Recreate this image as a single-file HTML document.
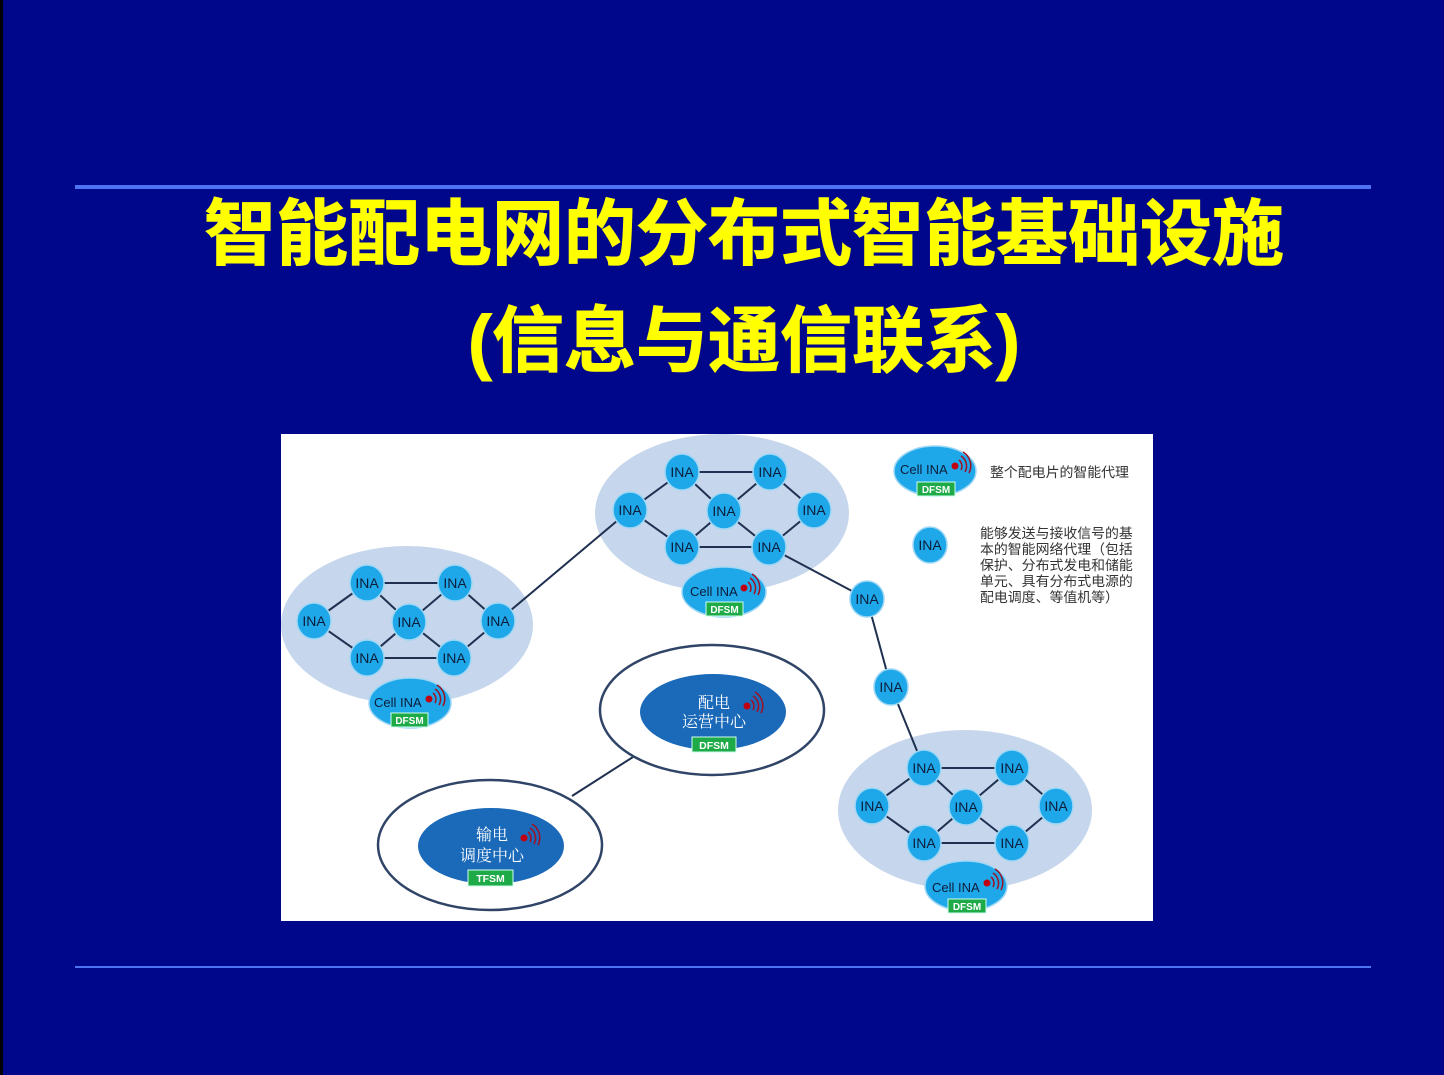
<!DOCTYPE html>
<html><head><meta charset="utf-8"><style>
html,body{margin:0;padding:0;background:#01078a;}
svg{display:block}
</style></head><body>
<svg width="1444" height="1075" viewBox="0 0 1444 1075" xmlns="http://www.w3.org/2000/svg" font-family="Liberation Sans, Noto Sans CJK SC, sans-serif">
<rect width="1444" height="1075" fill="#01078a"/>
<rect x="0" y="0" width="3" height="1075" fill="#000"/>
<rect x="75" y="185" width="1296" height="4" fill="#4d73f2"/>
<rect x="75" y="966" width="1296" height="2" fill="#4d73f2"/>
<text x="744" y="259" text-anchor="middle" font-size="72" font-weight="bold" fill="#ffff00" stroke="#ffff00" stroke-width="1" font-family="Liberation Sans, Noto Sans CJK SC, sans-serif">智能配电网的分布式智能基础设施</text>
<text x="744" y="366" text-anchor="middle" font-size="72" font-weight="bold" fill="#ffff00" stroke="#ffff00" stroke-width="1" font-family="Liberation Sans, Noto Sans CJK SC, sans-serif">(信息与通信联系)</text>

<rect x="281" y="434" width="872" height="487" fill="#fff"/>

<defs>
<g id="sig">
<circle cx="0" cy="0" r="3.5" fill="#c00010"/>
<path d="M4,-6 A8,8 0 0 1 6,4" fill="none" stroke="#a01020" stroke-width="1.5"/>
<path d="M6,-10 A12,12 0 0 1 10,6" fill="none" stroke="#a01020" stroke-width="1.5"/>
<path d="M8,-14 A16,16 0 0 1 14,7" fill="none" stroke="#a01020" stroke-width="1.5"/>
</g>
</defs>

<ellipse cx="722" cy="513" rx="127" ry="79" fill="#c6d6ec"/>
<ellipse cx="407" cy="625" rx="126" ry="79" fill="#c6d6ec"/>
<ellipse cx="965" cy="810" rx="127" ry="80" fill="#c6d6ec"/>

<g stroke="#1f3050" stroke-width="2">
<line x1="498" y1="621" x2="630" y2="510"/>
<line x1="769" y1="547" x2="867" y2="599"/>
<line x1="867" y1="599" x2="891" y2="687"/>
<line x1="891" y1="687" x2="924" y2="768"/>
<line x1="572" y1="796" x2="633" y2="757"/>
<line x1="682" y1="472" x2="770" y2="472"/><line x1="630" y1="510" x2="682" y2="472"/><line x1="630" y1="510" x2="682" y2="547"/>
<line x1="682" y1="472" x2="724" y2="511"/><line x1="770" y1="472" x2="724" y2="511"/><line x1="724" y1="511" x2="682" y2="547"/>
<line x1="724" y1="511" x2="769" y2="547"/><line x1="682" y1="547" x2="769" y2="547"/><line x1="770" y1="472" x2="814" y2="510"/><line x1="769" y1="547" x2="814" y2="510"/>
<line x1="367" y1="583" x2="455" y2="583"/><line x1="314" y1="621" x2="367" y2="583"/><line x1="314" y1="621" x2="367" y2="658"/>
<line x1="367" y1="583" x2="409" y2="622"/><line x1="455" y1="583" x2="409" y2="622"/><line x1="409" y1="622" x2="367" y2="658"/>
<line x1="409" y1="622" x2="454" y2="658"/><line x1="367" y1="658" x2="454" y2="658"/><line x1="455" y1="583" x2="498" y2="621"/><line x1="454" y1="658" x2="498" y2="621"/>
<line x1="924" y1="768" x2="1012" y2="768"/><line x1="872" y1="806" x2="924" y2="768"/><line x1="872" y1="806" x2="924" y2="843"/>
<line x1="924" y1="768" x2="966" y2="807"/><line x1="1012" y1="768" x2="966" y2="807"/><line x1="966" y1="807" x2="924" y2="843"/>
<line x1="966" y1="807" x2="1012" y2="843"/><line x1="924" y1="843" x2="1012" y2="843"/><line x1="1012" y1="768" x2="1056" y2="806"/><line x1="1012" y1="843" x2="1056" y2="806"/>
</g>

<g fill="#1ea7e9" stroke="#9fd7f5" stroke-width="1.5">
<ellipse cx="682" cy="472" rx="17" ry="18"/><ellipse cx="770" cy="472" rx="17" ry="18"/><ellipse cx="630" cy="510" rx="17" ry="18"/><ellipse cx="724" cy="511" rx="17" ry="18"/><ellipse cx="814" cy="510" rx="17" ry="18"/><ellipse cx="682" cy="547" rx="17" ry="18"/><ellipse cx="769" cy="547" rx="17" ry="18"/>
<ellipse cx="367" cy="583" rx="17" ry="18"/><ellipse cx="455" cy="583" rx="17" ry="18"/><ellipse cx="314" cy="621" rx="17" ry="18"/><ellipse cx="409" cy="622" rx="17" ry="18"/><ellipse cx="498" cy="621" rx="17" ry="18"/><ellipse cx="367" cy="658" rx="17" ry="18"/><ellipse cx="454" cy="658" rx="17" ry="18"/>
<ellipse cx="924" cy="768" rx="17" ry="18"/><ellipse cx="1012" cy="768" rx="17" ry="18"/><ellipse cx="872" cy="806" rx="17" ry="18"/><ellipse cx="966" cy="807" rx="17" ry="18"/><ellipse cx="1056" cy="806" rx="17" ry="18"/><ellipse cx="924" cy="843" rx="17" ry="18"/><ellipse cx="1012" cy="843" rx="17" ry="18"/>
<ellipse cx="867" cy="599" rx="17" ry="18"/><ellipse cx="891" cy="687" rx="17" ry="18"/><ellipse cx="930" cy="545" rx="17" ry="18"/>
</g>
<g font-size="14" fill="#0d1d3a" text-anchor="middle">
<text x="682" y="477">INA</text><text x="770" y="477">INA</text><text x="630" y="515">INA</text><text x="724" y="516">INA</text><text x="814" y="515">INA</text><text x="682" y="552">INA</text><text x="769" y="552">INA</text>
<text x="367" y="588">INA</text><text x="455" y="588">INA</text><text x="314" y="626">INA</text><text x="409" y="627">INA</text><text x="498" y="626">INA</text><text x="367" y="663">INA</text><text x="454" y="663">INA</text>
<text x="924" y="773">INA</text><text x="1012" y="773">INA</text><text x="872" y="811">INA</text><text x="966" y="812">INA</text><text x="1056" y="811">INA</text><text x="924" y="848">INA</text><text x="1012" y="848">INA</text>
<text x="867" y="604">INA</text><text x="891" y="692">INA</text><text x="930" y="550">INA</text>
</g>

<g>
<ellipse cx="724" cy="592" rx="42" ry="25" fill="#1ea7e9" stroke="#9fd7f5" stroke-width="1.5"/>
<text x="690" y="596" font-size="13" fill="#0d1d3a">Cell INA</text><use href="#sig" x="744" y="588"/>
<rect x="706" y="602" width="37" height="14" fill="#1faa48" stroke="#cfe" stroke-width="1"/><text x="724.5" y="613" font-size="10" font-weight="bold" fill="#fff" text-anchor="middle">DFSM</text>

<ellipse cx="410" cy="703" rx="41" ry="25" fill="#1ea7e9" stroke="#9fd7f5" stroke-width="1.5"/>
<text x="374" y="707" font-size="13" fill="#0d1d3a">Cell INA</text><use href="#sig" x="429" y="699"/>
<rect x="391" y="713" width="37" height="14" fill="#1faa48" stroke="#cfe" stroke-width="1"/><text x="409.5" y="724" font-size="10" font-weight="bold" fill="#fff" text-anchor="middle">DFSM</text>

<ellipse cx="966" cy="886" rx="41" ry="25" fill="#1ea7e9" stroke="#9fd7f5" stroke-width="1.5"/>
<text x="932" y="892" font-size="13" fill="#0d1d3a">Cell INA</text><use href="#sig" x="987" y="883"/>
<rect x="948" y="899" width="38" height="14" fill="#1faa48" stroke="#cfe" stroke-width="1"/><text x="967" y="910" font-size="10" font-weight="bold" fill="#fff" text-anchor="middle">DFSM</text>

<ellipse cx="935" cy="471" rx="41" ry="25" fill="#1ea7e9" stroke="#9fd7f5" stroke-width="1.5"/>
<text x="900" y="474" font-size="13" fill="#0d1d3a">Cell INA</text><use href="#sig" x="955" y="466"/>
<rect x="917" y="482" width="38" height="14" fill="#1faa48" stroke="#cfe" stroke-width="1"/><text x="936" y="493" font-size="10" font-weight="bold" fill="#fff" text-anchor="middle">DFSM</text>
</g>

<g font-size="13.9" fill="#333" font-family="Liberation Sans, Noto Sans CJK SC, sans-serif">
<text x="990" y="477">整个配电片的智能代理</text>
<text x="980" y="538">能够发送与接收信号的基</text>
<text x="980" y="554">本的智能网络代理（包括</text>
<text x="980" y="570">保护、分布式发电和储能</text>
<text x="980" y="586">单元、具有分布式电源的</text>
<text x="980" y="602">配电调度、等值机等）</text>
</g>

<ellipse cx="712" cy="710" rx="112" ry="65" fill="#fff" stroke="#2f4466" stroke-width="2.5"/>
<ellipse cx="713" cy="712" rx="73" ry="38" fill="#1b69b9"/>
<text x="714" y="708" font-size="16" fill="#fff" text-anchor="middle" font-family="Noto Serif CJK SC, serif">配电</text>
<text x="714" y="727" font-size="16" fill="#fff" text-anchor="middle" font-family="Noto Serif CJK SC, serif">运营中心</text>
<use href="#sig" x="747" y="706"/>
<rect x="692" y="737" width="44" height="15" fill="#1faa48" stroke="#cfe" stroke-width="1"/><text x="714" y="749" font-size="10.5" font-weight="bold" fill="#fff" text-anchor="middle">DFSM</text>

<ellipse cx="490" cy="845" rx="112" ry="65" fill="#fff" stroke="#2f4466" stroke-width="2.5"/>
<ellipse cx="491" cy="846" rx="73" ry="38" fill="#1b69b9"/>
<text x="492" y="840" font-size="16" fill="#fff" text-anchor="middle" font-family="Noto Serif CJK SC, serif">输电</text>
<text x="492" y="861" font-size="16" fill="#fff" text-anchor="middle" font-family="Noto Serif CJK SC, serif">调度中心</text>
<use href="#sig" x="524" y="838"/>
<rect x="468" y="870" width="45" height="16" fill="#1faa48" stroke="#cfe" stroke-width="1"/><text x="490.5" y="882" font-size="10.5" font-weight="bold" fill="#fff" text-anchor="middle">TFSM</text>
</svg>
</body></html>
